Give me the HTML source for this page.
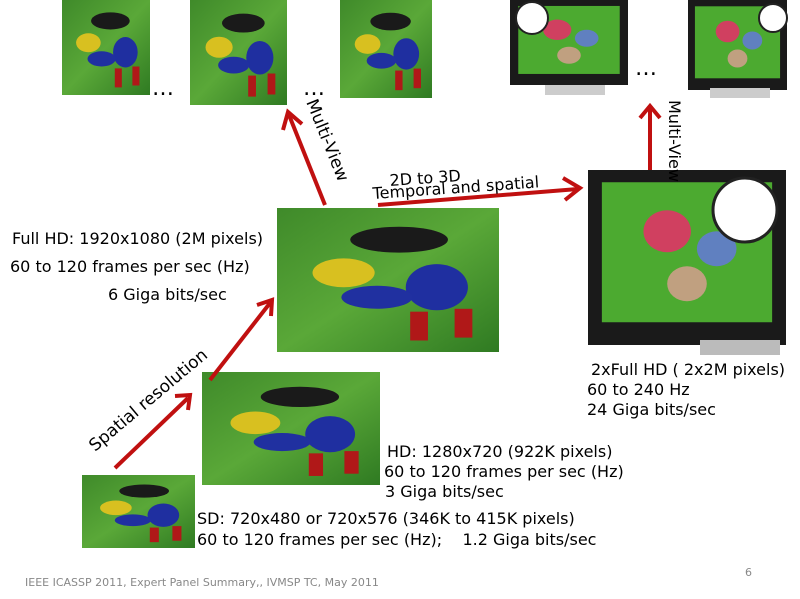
<!DOCTYPE html>
<html><head><style>
body{margin:0;background:#fff;width:800px;height:599px;overflow:hidden;font-family:"Liberation Sans",sans-serif}
svg{display:block}
text{font-family:"DejaVu Sans","Liberation Sans",sans-serif;fill:#000}
</style></head><body>
<svg width="800" height="599" viewBox="0 0 800 599">
<defs>
<linearGradient id="g" x1="0" y1="0" x2="1" y2="1">
<stop offset="0" stop-color="#3f8a2a"/><stop offset="0.5" stop-color="#5aa838"/><stop offset="1" stop-color="#2f7a22"/></linearGradient>
<g id="pl">
<rect width="100" height="100" fill="url(#g)"/>
<ellipse cx="55" cy="22" rx="22" ry="9" fill="#1a1a1a"/>
<ellipse cx="30" cy="45" rx="14" ry="10" fill="#d8c020"/>
<ellipse cx="72" cy="55" rx="14" ry="16" fill="#1f2fa0"/>
<ellipse cx="45" cy="62" rx="16" ry="8" fill="#2030a0"/>
<rect x="60" y="72" width="8" height="20" fill="#b01818"/>
<rect x="80" y="70" width="8" height="20" fill="#b01818"/>
</g>
<g id="tv">
<rect width="100" height="100" fill="#1a1a1a"/>
<rect x="7" y="7" width="86" height="80" fill="#4caa30"/>
<circle cx="40" cy="35" r="12" fill="#d04060"/>
<circle cx="65" cy="45" r="10" fill="#6080c0"/>
<circle cx="50" cy="65" r="10" fill="#c0a080"/>
</g>
</defs>
<g transform="translate(62,0) scale(0.88,0.95)"><use href="#pl"/></g>
<g transform="translate(190,0) scale(0.97,1.05)"><use href="#pl"/></g>
<g transform="translate(340,0) scale(0.92,0.98)"><use href="#pl"/></g>
<text x="152" y="95" font-size="22">…</text>
<text x="303" y="95" font-size="22">…</text>
<g transform="translate(510,0) scale(1.18,0.85)"><use href="#tv"/></g>
<rect x="545" y="85" width="60" height="10" fill="#ccc"/>
<circle cx="532" cy="18" r="16" fill="#fff" stroke="#222" stroke-width="2"/>
<g transform="translate(688,0) scale(0.99,0.9)"><use href="#tv"/></g>
<rect x="710" y="88" width="60" height="10" fill="#ccc"/>
<circle cx="773" cy="18" r="14" fill="#fff" stroke="#222" stroke-width="2"/>
<text x="635" y="75" font-size="22">…</text>
<g transform="translate(277,208) scale(2.22,1.44)"><use href="#pl"/></g>
<g transform="translate(588,170) scale(1.98,1.75)"><use href="#tv"/></g>
<rect x="700" y="340" width="80" height="15" fill="#bbb"/>
<circle cx="745" cy="210" r="32" fill="#fff" stroke="#222" stroke-width="3"/>
<g transform="translate(202,372) scale(1.78,1.13)"><use href="#pl"/></g>
<g transform="translate(82,475) scale(1.13,0.73)"><use href="#pl"/></g>
<g stroke="#c01010" stroke-width="4" fill="none">
<line x1="115" y1="468" x2="188" y2="398"/><polyline points="175,396 190,395 188,410"/>
<line x1="210" y1="380" x2="270" y2="303"/><polyline points="257,305 272,300 271,316"/>
<line x1="325" y1="205" x2="289" y2="115"/><polyline points="283,130 288,112 302,124"/>
<line x1="378" y1="205" x2="578" y2="189"/><polyline points="563,178 580,188 565,200"/>
<line x1="650" y1="170" x2="650" y2="107"/><polyline points="640,118 650,106 660,118"/>
</g>
<text transform="translate(306,102) rotate(68)" font-size="17">Multi-View</text>
<text transform="translate(669,100) rotate(90)" font-size="16">Multi-View</text>
<text transform="translate(390,186) rotate(-4)" font-size="16">2D to 3D</text>
<text transform="translate(373,199) rotate(-4)" font-size="16">Temporal and spatial</text>
<text transform="translate(95,452) rotate(-40)" font-size="17">Spatial resolution</text>
<text font-size="16" xml:space="preserve">
<tspan x="12" y="244">Full HD: 1920x1080 (2M pixels)</tspan>
<tspan x="10" y="272">60 to 120 frames per sec (Hz)</tspan>
<tspan x="108" y="300">6 Giga bits/sec</tspan>
<tspan x="591" y="375">2xFull HD ( 2x2M pixels)</tspan>
<tspan x="587" y="395">60 to 240 Hz</tspan>
<tspan x="587" y="415">24 Giga bits/sec</tspan>
<tspan x="387" y="457">HD: 1280x720 (922K pixels)</tspan>
<tspan x="384" y="477">60 to 120 frames per sec (Hz)</tspan>
<tspan x="385" y="497">3 Giga bits/sec</tspan>
<tspan x="197" y="524">SD: 720x480 or 720x576 (346K to 415K pixels)</tspan>
<tspan x="197" y="545">60 to 120 frames per sec (Hz);    1.2 Giga bits/sec</tspan>
</text>
<text x="25" y="586" font-size="11" style="fill:#888">IEEE ICASSP 2011, Expert Panel Summary,, IVMSP TC, May 2011</text>
<text x="745" y="576" font-size="11" style="fill:#888">6</text>
</svg>
</body></html>
